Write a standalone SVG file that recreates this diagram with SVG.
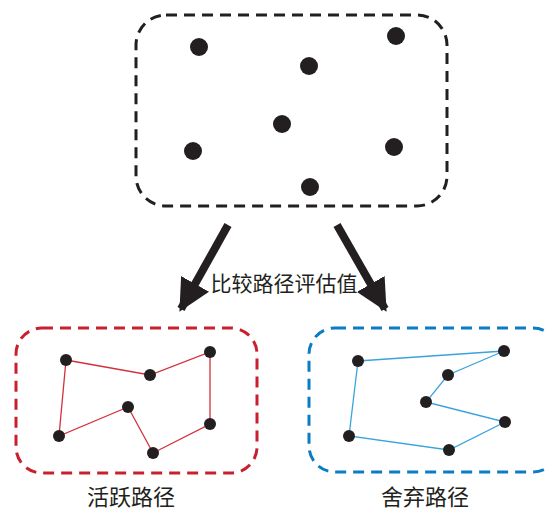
<svg xmlns="http://www.w3.org/2000/svg" width="547" height="512" viewBox="0 0 547 512">
<style>
.box{fill:none;stroke-width:3;stroke-dasharray:11 7}
.dot{fill:#231f20}
.lbl{font-family:"Noto Sans CJK SC","Liberation Sans",sans-serif;fill:#231f20}
</style>
<defs>
<marker id="ah" viewBox="0 0 10 10" refX="9" refY="5" markerWidth="4" markerHeight="4" markerUnits="strokeWidth" orient="auto">
<path d="M0,0 L10,5 L0,10 z" fill="#231f20"/>
</marker>
</defs>
<rect width="547" height="512" fill="#fff"/>
<g id="top">
<rect class="box" x="136" y="15" width="311" height="191" rx="30" stroke="#231f20"/>
<circle class="dot" cx="199" cy="47" r="9"/>
<circle class="dot" cx="396" cy="36" r="9"/>
<circle class="dot" cx="309" cy="66" r="9"/>
<circle class="dot" cx="282" cy="124" r="9"/>
<circle class="dot" cx="193" cy="151" r="9"/>
<circle class="dot" cx="394" cy="147" r="9"/>
<circle class="dot" cx="310" cy="187" r="9"/>
</g>
<g id="connectors">
<line x1="228" y1="225" x2="181" y2="309" stroke="#231f20" stroke-width="8" marker-end="url(#ah)"/>
<line x1="337" y1="225" x2="385" y2="309" stroke="#231f20" stroke-width="8" marker-end="url(#ah)"/>
</g>
<g id="compare">
<text class="lbl" x="284" y="291" font-size="21" text-anchor="middle">比较路径评估值</text>
</g>
<g id="active">
<rect class="box" x="16" y="328" width="241" height="145" rx="26" stroke="#c8202f"/>
<polygon points="66,360 150,375 210,352 210,424 153,453 128,407 59,436" fill="none" stroke="#d3303c" stroke-width="1.3"/>
<circle class="dot" cx="66" cy="360" r="6"/>
<circle class="dot" cx="150" cy="375" r="6"/>
<circle class="dot" cx="210" cy="352" r="6"/>
<circle class="dot" cx="128" cy="407" r="6"/>
<circle class="dot" cx="59" cy="436" r="6"/>
<circle class="dot" cx="153" cy="453" r="6"/>
<circle class="dot" cx="210" cy="424" r="6"/>
<text class="lbl" x="131" y="505" font-size="22" text-anchor="middle">活跃路径</text>
</g>
<g id="discarded">
<rect class="box" x="309" y="328" width="250" height="144" rx="26" stroke="#0a7cc4"/>
<polygon points="358,361 504,351 448,375 426,402 505,422 449,450 349,436" fill="none" stroke="#3aa3dc" stroke-width="1.3"/>
<circle class="dot" cx="358" cy="361" r="6"/>
<circle class="dot" cx="504" cy="351" r="6"/>
<circle class="dot" cx="448" cy="375" r="6"/>
<circle class="dot" cx="426" cy="402" r="6"/>
<circle class="dot" cx="505" cy="422" r="6"/>
<circle class="dot" cx="449" cy="450" r="6"/>
<circle class="dot" cx="349" cy="436" r="6"/>
<text class="lbl" x="425" y="505" font-size="22" text-anchor="middle">舍弃路径</text>
</g>
</svg>
